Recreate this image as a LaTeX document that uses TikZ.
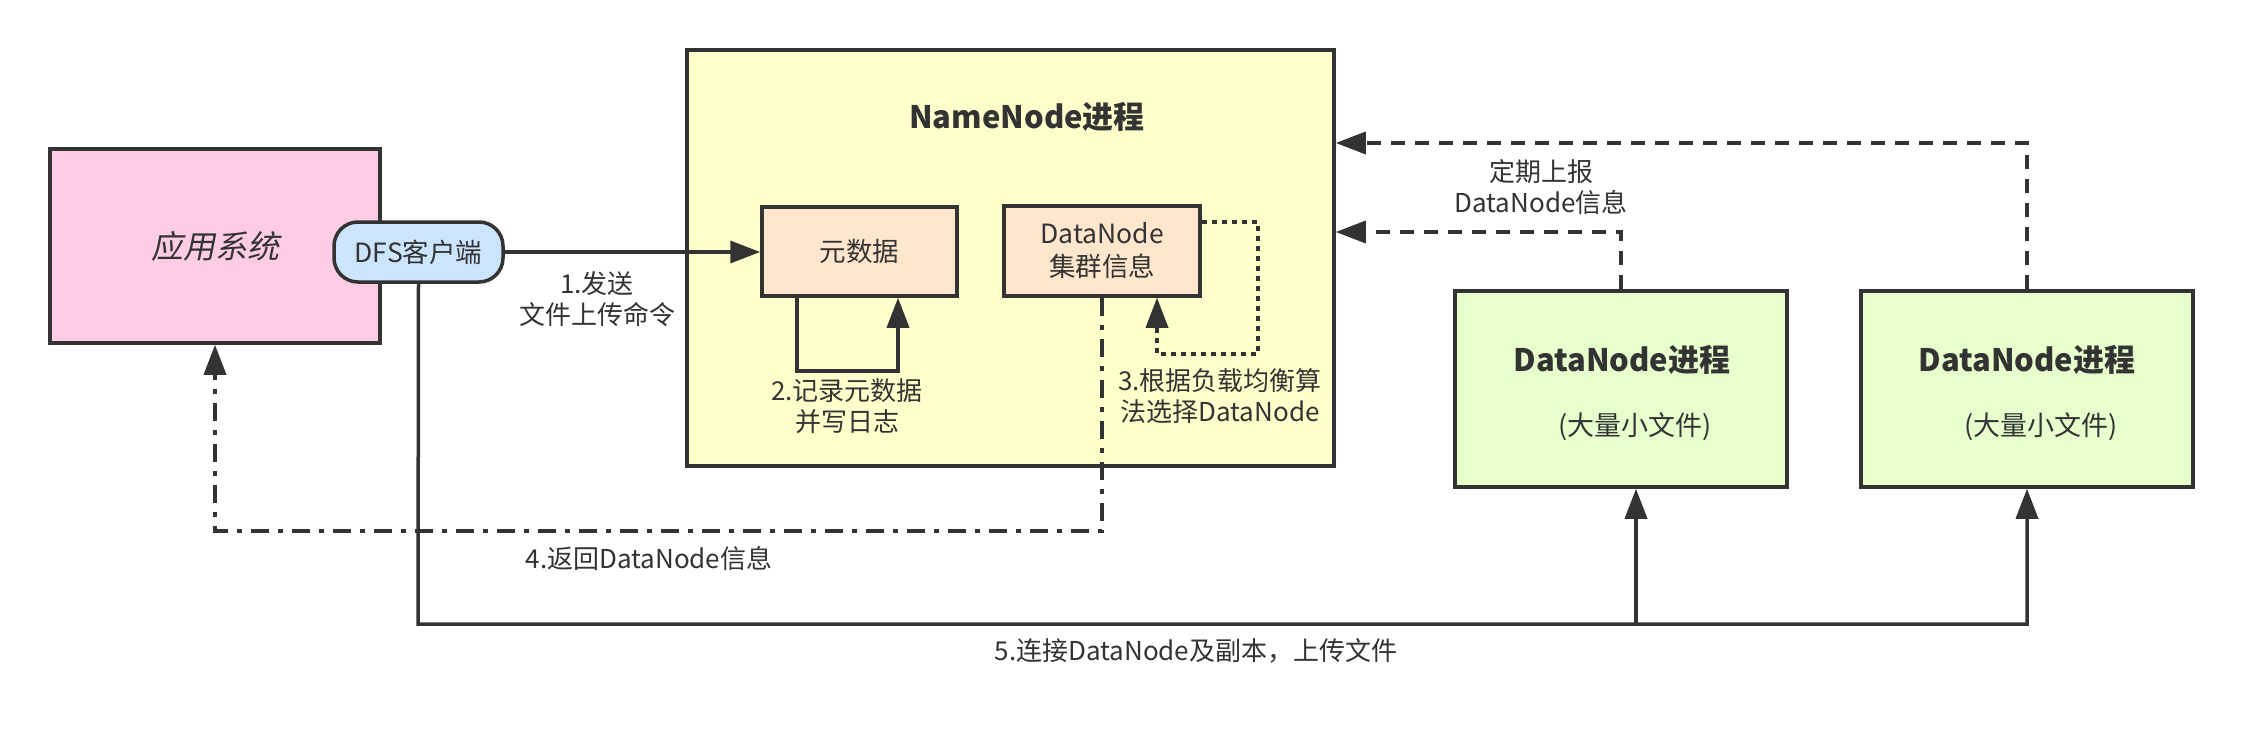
\documentclass[tikz,border=0pt]{standalone}
\usepackage{fontspec}
\setmainfont{Noto Sans CJK SC}
\newfontfamily\slfont[FakeSlant=0.2]{Noto Sans CJK SC}
\usetikzlibrary{arrows.meta}
\definecolor{ink}{HTML}{333333}
\definecolor{pinkfill}{HTML}{FFCCE6}
\definecolor{bluefill}{HTML}{CCE5FF}
\definecolor{yellowfill}{HTML}{FFFFCC}
\definecolor{orangefill}{HTML}{FFE6CC}
\definecolor{greenfill}{HTML}{E6FFCC}
\begin{document}
\begin{tikzpicture}[x=1pt,y=-1pt,
  box/.style={draw=ink, line width=3.5pt, text=ink, inner sep=0pt, align=center},
  conn/.style={draw=ink, line width=3.5pt, line join=miter, -{Triangle[length=30pt,width=22pt]}},
  dashconn/.style={conn, dash pattern=on 14pt off 10pt},
  dotconn/.style={conn, dash pattern=on 5pt off 5pt},
  ddconn/.style={conn, dash pattern=on 18pt off 9pt on 5pt off 9pt},
  lbl/.style={text=ink, font=\fontsize{26}{31}\selectfont, align=center, inner sep=0pt},
  nodetxt/.style={font=\fontsize{26.5}{33}\selectfont},
  titletxt/.style={text=ink, font=\fontsize{31}{36}\selectfont\bfseries, inner sep=0pt}
]
\useasboundingbox[fill=white] (0,0) rectangle (2241,733);

% boxes
\node[box, fill=pinkfill, minimum width=330pt, minimum height=194pt,
      font=\fontsize{32}{38}\selectfont\slfont] (app) at (215,246) {应用系统};
\node[box, fill=yellowfill, minimum width=647pt, minimum height=416pt] (nn) at (1010.5,258) {};
\node[titletxt] (nntitle) at (1027,117) {NameNode进程};
\node[box, fill=bluefill, rounded corners=24pt, minimum width=169pt, minimum height=60pt, nodetxt] (dfs) at (418.5,252) {DFS客户端};
\node[box, fill=orangefill, minimum width=195pt, minimum height=89pt, nodetxt] (meta) at (859.5,251.5) {元数据};
\node[box, fill=orangefill, minimum width=196pt, minimum height=90pt, nodetxt] (dnc) at (1102,251) {DataNode\\集群信息};
\node[box, fill=greenfill, minimum width=332pt, minimum height=196pt] (dn1) at (1621,389) {};
\node[box, fill=greenfill, minimum width=332pt, minimum height=196pt] (dn2) at (2027,389) {};
\node[titletxt] (dn1t) at (1622,360) {DataNode进程};
\node[lbl, font=\fontsize{27}{31}\selectfont] (dn1s) at (1635,427) {(大量小文件)};
\node[titletxt] (dn2t) at (2027,360) {DataNode进程};
\node[lbl, font=\fontsize{27}{31}\selectfont] (dn2s) at (2041,427) {(大量小文件)};

% labels
\node[lbl] (lab1) at (597,299) {1.发送\\文件上传命令};
\node[lbl] (lab2) at (847,406) {2.记录元数据\\并写日志};
\node[lbl] (lab3) at (1220,396) {3.根据负载均衡算\\法选择DataNode};
\node[lbl] (lab4) at (649,559) {4.返回DataNode信息};
\node[lbl] (lab5) at (1196,651) {5.连接DataNode及副本，上传文件};
\node[lbl] (labr) at (1541,187) {定期上报\\DataNode信息};

% coordinates
\coordinate (l2a) at (797,371);
\coordinate (l2b) at (898,371);
\coordinate (d3a) at (1258,222);
\coordinate (d3b) at (1258,354);
\coordinate (d3c) at (1157,354);
\coordinate (c4a) at (1102,531);
\coordinate (c4b) at (215,531);
\coordinate (c5a) at (418,624);
\coordinate (c5b) at (1636,624);
\coordinate (c5c) at (2027,624);
\coordinate (r1a) at (1621,232);
\coordinate (r2a) at (2027,143);

% connectors
\draw[conn] (dfs.east) -- (dfs.east -| meta.west);
\draw[conn] (meta.south -| l2a) -- (l2a) -- (l2b) -- (meta.south -| l2b);
\draw[dotconn] (dnc.east |- d3a) -- (d3a) -- (d3b) -- (d3c) -- (dnc.south -| d3c);
\draw[ddconn] (dnc.south) -- (c4a) -- (c4b) -- (app.south);
\draw[conn] (dfs.south) -- (c5a) -- (c5c) -- (dn2.south);
\draw[conn] (c5b) -- (dn1.south -| c5b);
\draw[dashconn] (dn1.north) -- (r1a) -- (nn.east |- r1a);
\draw[dashconn] (dn2.north) -- (r2a) -- (nn.east |- r2a);
\end{tikzpicture}
\end{document}
